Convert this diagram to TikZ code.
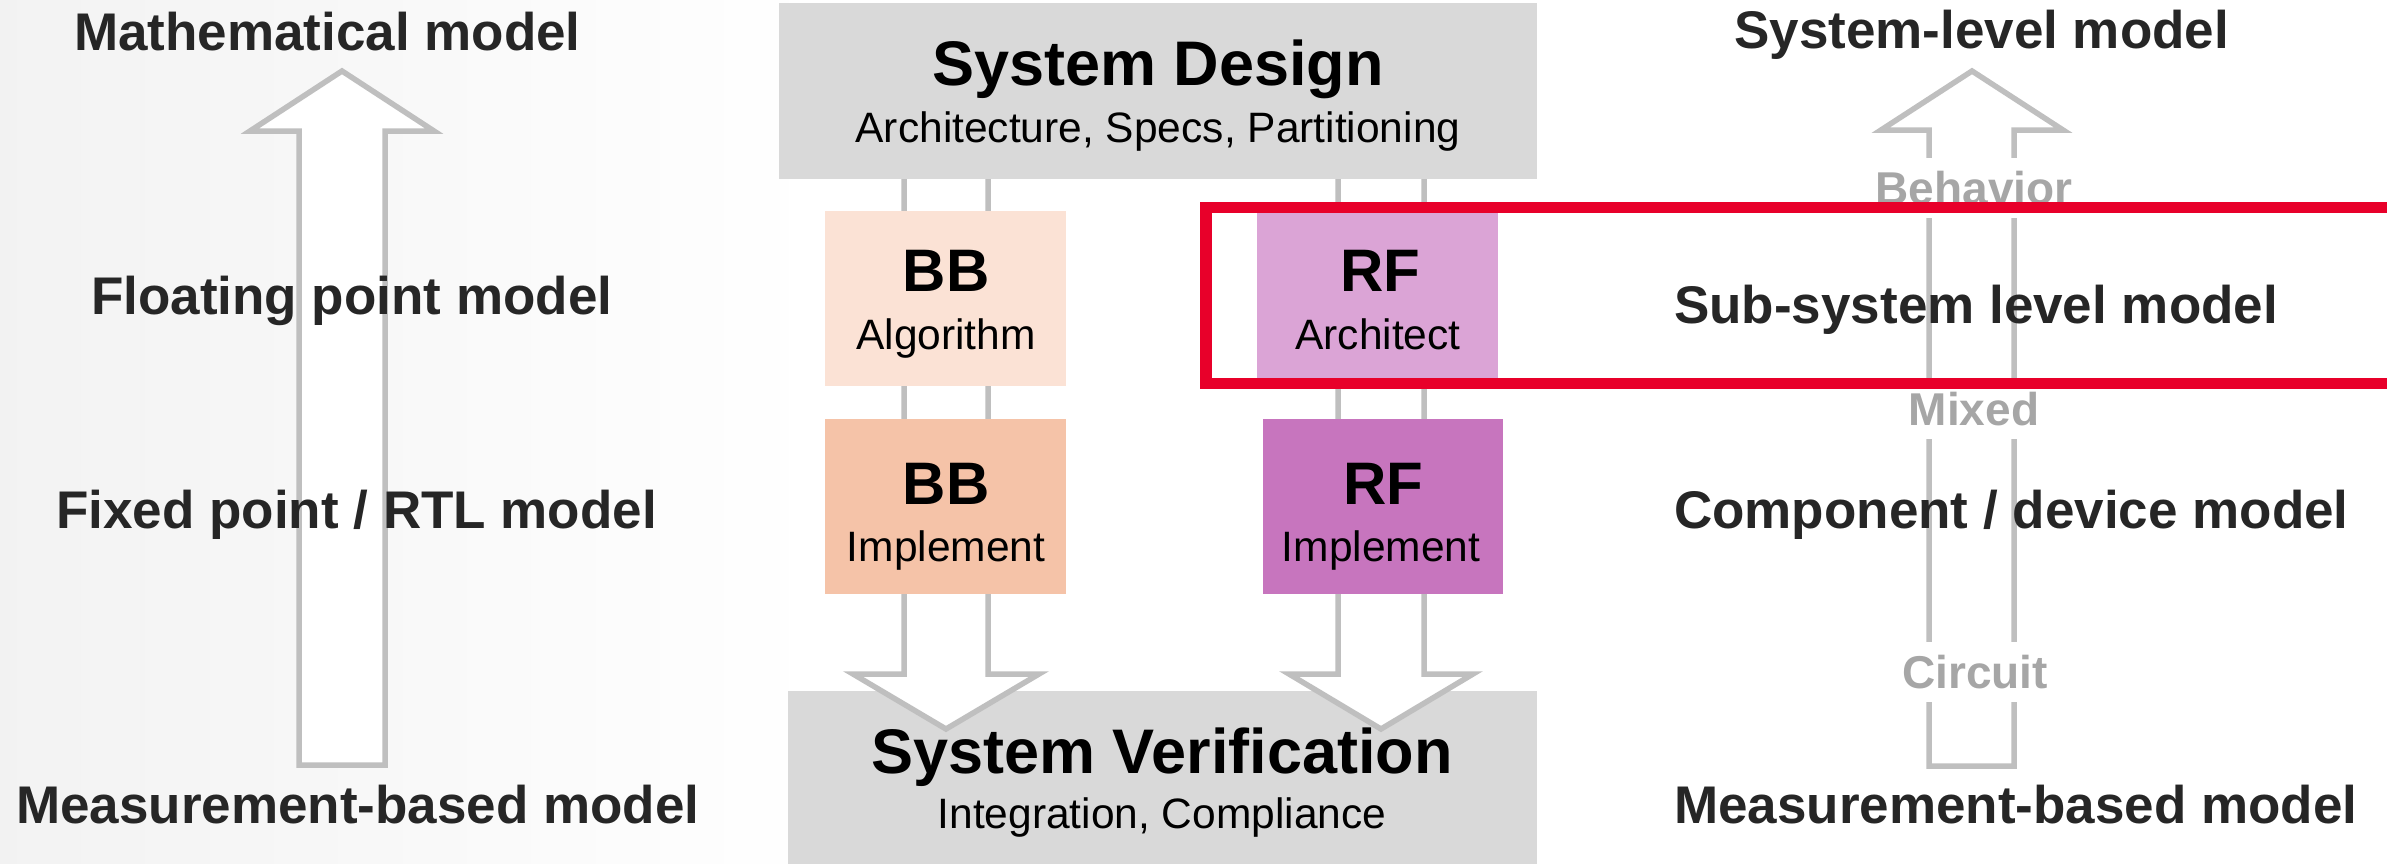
\documentclass[tikz,border=0pt]{standalone}
\usepackage{fontspec}
\setmainfont{Liberation Sans}
\usetikzlibrary{calc}
\definecolor{boxgray}{HTML}{D9D9D9}
\definecolor{arrgray}{HTML}{BFBFBF}
\definecolor{lblgray}{HTML}{A6A6A6}
\definecolor{txtdark}{HTML}{262626}
\definecolor{bbalgo}{RGB}{251,226,213}
\definecolor{bbimpl}{RGB}{245,195,168}
\definecolor{rfarch}{RGB}{219,164,214}
\definecolor{rfimpl}{RGB}{199,117,190}
\definecolor{hired}{RGB}{232,0,42}
\tikzset{
  blockbox/.style={rectangle, draw=none, inner sep=0pt},
  modeltext/.style={anchor=base west, inner sep=0pt, text=txtdark, font=\fontsize{53}{60}\selectfont\bfseries},
  bigtitle/.style={anchor=base, inner sep=0pt, text=black, font=\fontsize{63}{70}\selectfont\bfseries},
  subtext/.style={anchor=base, inner sep=0pt, text=black, font=\fontsize{42.5}{48}\selectfont},
  boxtag/.style={anchor=base, inner sep=0pt, text=black, font=\fontsize{60}{66}\selectfont\bfseries},
  levellabel/.style={fill=white, inner sep=0pt, text=lblgray, font=\fontsize{46}{50}\selectfont\bfseries, text height=33pt, text depth=0pt, minimum height=60pt},
  blockarrow/.style={draw=arrgray, fill=white, line width=5.5pt, line join=miter},
}
\begin{document}
\begin{tikzpicture}[x=1pt, y=-1pt]
\useasboundingbox (0,0) rectangle (2387,863);
% background gradient on the left
\shade[left color=black!5, right color=white] (0,0) rectangle (820,863);

% left up arrow
\draw[blockarrow] (299,765) -- (299,131) -- (250,131) -- (342,71) -- (434,131) -- (385,131) -- (385,765) -- cycle;
% right up arrow
\draw[blockarrow] (1929,766) -- (1929,130) -- (1881,130) -- (1972,71) -- (2063,130) -- (2014,130) -- (2014,766) -- cycle;

% verification box (under the down arrows)
\node[blockbox, fill=boxgray, minimum width=749pt, minimum height=180pt] (ver) at (1162.5,781) {};

% down arrows
\draw[blockarrow] (904,170) -- (904,674) -- (853,674) -- (946,729) -- (1039,674) -- (988,674) -- (988,170) -- cycle;
\draw[blockarrow] (1338,170) -- (1338,674) -- (1289,674) -- (1381,729) -- (1473,674) -- (1424,674) -- (1424,170) -- cycle;

% system design box
\node[blockbox, fill=boxgray, minimum width=758pt, minimum height=176pt] (sd) at (1158,91) {};
\node[bigtitle] (sdt) at (1158,85) {System Design};
\node[subtext] (sds) at (1158,142) {Architecture, Specs, Partitioning};

% BB / RF boxes
\node[blockbox, fill=bbalgo, minimum width=241pt, minimum height=175pt] (bba) at (945.5,298.5) {};
\node[blockbox, fill=bbimpl, minimum width=241pt, minimum height=175pt] (bbi) at (945.5,506.5) {};
\node[blockbox, fill=rfarch, minimum width=241pt, minimum height=175pt] (rfa) at (1377.5,298.5) {};
\node[blockbox, fill=rfimpl, minimum width=240pt, minimum height=175pt] (rfi) at (1382.5,506.5) {};

\node[boxtag] (bbat) at (946,291) {BB};
\node[subtext] (bbas) at (946,349) {Algorithm};
\node[boxtag] (bbit) at (946,504) {BB};
\node[subtext] (bbis) at (946,561) {Implement};
\node[boxtag] (rfat) at (1380,291) {RF};
\node[subtext] (rfas) at (1378,349) {Architect};
\node[boxtag] (rfit) at (1383,504) {RF};
\node[subtext] (rfis) at (1381,561) {Implement};

% verification text
\node[bigtitle] (vert) at (1162,773) {System Verification};
\node[subtext] (vers) at (1162,828) {Integration, Compliance};

% left model labels
\node[modeltext] (l1) at (74,50) {Mathematical model};
\node[modeltext] (l2) at (91,314) {Floating point model};
\node[modeltext] (l3) at (56,528) {Fixed point / RTL model};
\node[modeltext] (l4) at (16,823) {Measurement-based model};

% right model labels
\node[modeltext] (r1) at (1734,48) {System-level model};
\node[modeltext] (r2) at (1674,323) {Sub-system level model};
\node[modeltext] (r3) at (1674,528) {Component / device model};
\node[modeltext] (r4) at (1674,823) {Measurement-based model};

% level labels on the right arrow
\node[levellabel] (beh) at (1974,188) {Behavior};
\node[levellabel] (mix) at (1974,408.5) {Mixed};
\node[levellabel] (cir) at (1975,671.5) {Circuit};

% red highlight frame
\draw[hired, line width=11.5pt] (1206,207.5) rectangle (2420,383.5);
\end{tikzpicture}
\end{document}
